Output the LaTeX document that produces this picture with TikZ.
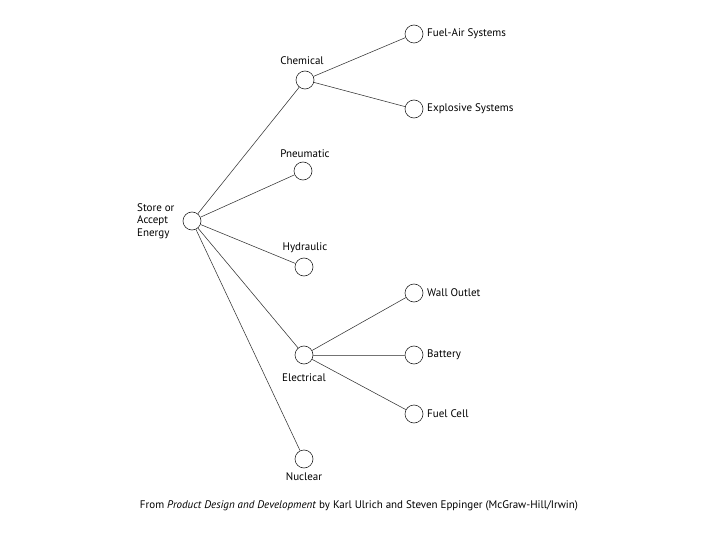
\documentclass[tikz,border=0pt]{standalone}
\usepackage{fontspec}
\setmainfont{PT Sans}
\begin{document}
\begin{tikzpicture}[x=1pt,y=-1pt,
  leaf/.style={circle,draw=black!85,line width=0.6pt,minimum size=18pt,inner sep=0pt},
  lbl/.style={font=\fontsize{11}{12.5}\selectfont,inner sep=0pt},
  conn/.style={draw=black!80,line width=0.55pt}]
\useasboundingbox (0,0) rectangle (720,540);
\node[leaf] (root) at (192,221) {};
\node[lbl,align=left,anchor=west] (rootl) at (137,221) {Store or\\Accept\\Energy};
\node[leaf] (chem) at (305,80) {};
\node[lbl] (cheml) at (302,61) {Chemical};
\node[leaf] (fa) at (414,34) {};
\node[lbl,anchor=west] (fal) at (427,34) {Fuel-Air Systems};
\node[leaf] (ex) at (414,109) {};
\node[lbl,anchor=west] (exl) at (427,109) {Explosive Systems};
\node[leaf] (pn) at (303,171) {};
\node[lbl] (pnl) at (305,154) {Pneumatic};
\node[leaf] (hy) at (304,267) {};
\node[lbl] (hyl) at (305,248) {Hydraulic};
\node[leaf] (el) at (304,355) {};
\node[lbl] (ell) at (304,378) {Electrical};
\node[leaf] (wo) at (414,293) {};
\node[lbl,anchor=west] (wol) at (427,293) {Wall Outlet};
\node[leaf] (ba) at (414,355) {};
\node[lbl,anchor=west] (bal) at (427,355) {Battery};
\node[leaf] (fc) at (414,414) {};
\node[lbl,anchor=west] (fcl) at (427,414) {Fuel Cell};
\node[leaf] (nu) at (304,459) {};
\node[lbl] (nul) at (304,477) {Nuclear};
\node[lbl] (cap) at (359,506) {From \textit{Product Design and Development} by Karl Ulrich and Steven Eppinger (McGraw-Hill/Irwin)};
\foreach \t in {chem,pn,hy,el,nu} \draw[conn] (root) -- (\t);
\foreach \t in {fa,ex} \draw[conn] (chem) -- (\t);
\draw[conn] (el) -- (wo);
\draw[conn,draw=black!55] (el) -- (ba);
\draw[conn] (el) -- (fc);
\end{tikzpicture}
\end{document}
